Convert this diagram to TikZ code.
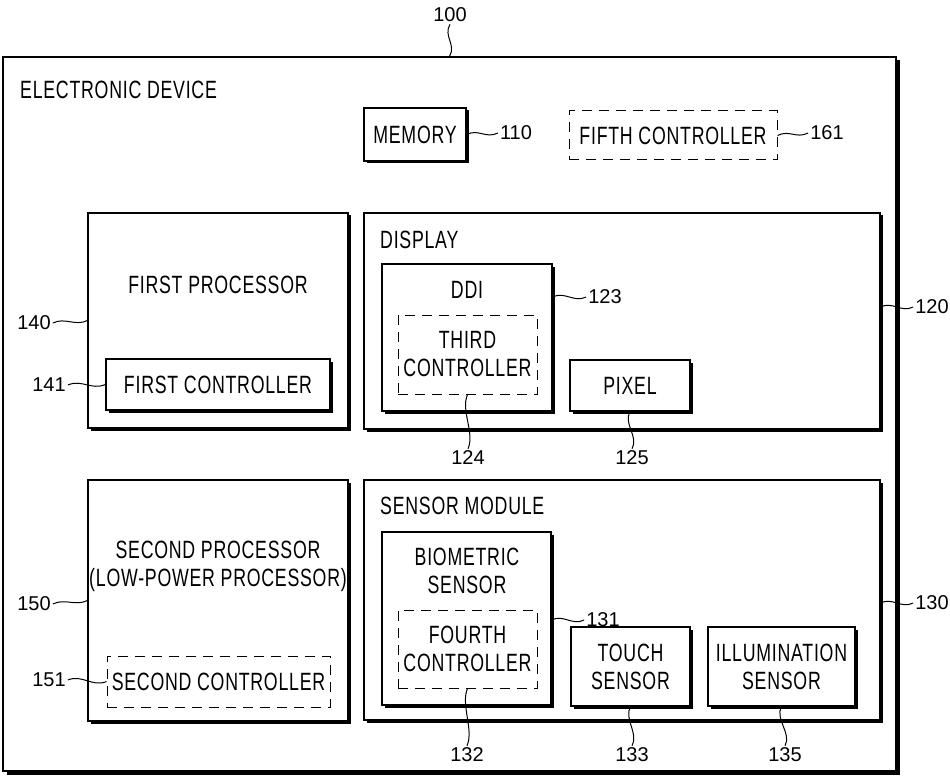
\documentclass[tikz,border=0pt]{standalone}
\usepackage{fontspec}
\setmainfont{Liberation Sans}
\newfontfamily\narrowfont{Liberation Sans}[FakeStretch=0.71,LetterSpace=3]
\usetikzlibrary{fit,shadows,positioning}

\begin{document}
\begin{tikzpicture}[x=1pt,y=-1pt,
  device/.style={draw,line width=1.2pt,fill=white,inner sep=0pt,
    drop shadow={shadow xshift=3.5pt,shadow yshift=-3.5pt,opacity=1,fill=black}},
  unit/.style={draw,line width=1.2pt,fill=white,inner sep=0pt,
    drop shadow={shadow xshift=2.5pt,shadow yshift=-2.5pt,opacity=1,fill=black}},
  option/.style={draw,line width=1pt,dash pattern=on 10pt off 7pt,inner sep=0pt},
  txt/.style={font=\narrowfont\fontsize{25}{28}\selectfont,align=center,inner sep=0pt},
  ref/.style={font=\fontsize{20}{22}\selectfont,inner sep=2pt},
  lead/.style={line width=1pt}]

    \useasboundingbox (0,0) rectangle (950,778);

    % boxes
    \node[device,fit={(3,57) (896,771)}] (dev) {};
    \node[unit,fit={(364,108) (466,161)}] (mem) {};
    \node[option,fit={(569,111) (777,160)}] (fifth) {};
    \node[unit,fit={(88,213) (348,428)}] (proc1) {};
    \node[unit,fit={(106,359) (330,410)}] (ctrl1) {};
    \node[unit,fit={(364,213) (880,429)}] (disp) {};
    \node[unit,fit={(382,264) (552,411)}] (ddi) {};
    \node[option,fit={(398,315) (537,394)}] (ctrl3) {};
    \node[unit,fit={(570,360) (690,411)}] (pixel) {};
    \node[unit,fit={(88,480) (348,721)}] (proc2) {};
    \node[option,fit={(107,656) (330,707)}] (ctrl2) {};
    \node[unit,fit={(364,480) (880,720)}] (sens) {};
    \node[unit,fit={(382,532) (551,705)}] (bio) {};
    \node[option,fit={(398,610) (537,688)}] (ctrl4) {};
    \node[unit,fit={(571,627) (690,706)}] (touch) {};
    \node[unit,fit={(708,627) (855,706)}] (illum) {};

    % texts
    \node[txt,anchor=west] (devtxt) at (20,90) {ELECTRONIC DEVICE};
    \node[txt] (memtxt) at (mem) {MEMORY};
    \node[txt] (fifthtxt) at (fifth) {FIFTH CONTROLLER};
    \node[txt] (proc1txt) at (218,285) {FIRST PROCESSOR};
    \node[txt] (ctrl1txt) at (ctrl1) {FIRST CONTROLLER};
    \node[txt,anchor=west] (disptxt) at (380,240) {DISPLAY};
    \node[txt] (dditxt) at (467,290) {DDI};
    \node[txt] (ctrl3txt) at (ctrl3) {THIRD\\CONTROLLER};
    \node[txt] (pixeltxt) at (pixel) {PIXEL};
    \node[txt] (proc2txt) at (218,566) {SECOND PROCESSOR\\(LOW-POWER PROCESSOR)};
    \node[txt] (ctrl2txt) at (ctrl2) {SECOND CONTROLLER};
    \node[txt,anchor=west] (senstxt) at (380,506) {SENSOR MODULE};
    \node[txt] (biotxt) at (467,571) {BIOMETRIC\\SENSOR};
    \node[txt] (ctrl4txt) at (ctrl4) {FOURTH\\CONTROLLER};
    \node[txt] (touchtxt) at (touch) {TOUCH\\SENSOR};
    \node[txt] (illumtxt) at (illum) {ILLUMINATION\\SENSOR};

    % reference numbers
    \node[ref] (l100) at (450,15) {100};
    \node[ref] (l110) at (516,133) {110};
    \node[ref] (l161) at (827,133) {161};
    \node[ref] (l140) at (34,323) {140};
    \node[ref] (l141) at (49,385) {141};
    \node[ref] (l120) at (932,307) {120};
    \node[ref] (l123) at (605,297) {123};
    \node[ref] (l124) at (468,458) {124};
    \node[ref] (l125) at (632,458) {125};
    \node[ref] (l150) at (34,604) {150};
    \node[ref] (l151) at (49,680) {151};
    \node[ref] (l130) at (932,603) {130};
    \node[ref] (l131) at (603,620) {131};
    \node[ref] (l132) at (467,755) {132};
    \node[ref] (l133) at (632,755) {133};
    \node[ref] (l135) at (785,755) {135};

    % leaders
    \draw[lead] (l100.south) .. controls +(-7,12) and +(7,-12) .. (dev.north);
    \draw[lead] (mem.east) .. controls +(12,-6) and +(-12,6) .. (l110.west);
    \draw[lead] (fifth.east) .. controls +(12,-6) and +(-12,6) .. (l161.west);
    \draw[lead] (l140.east) .. controls +(12,-6) and +(-12,6) .. (proc1.west);
    \draw[lead] (l141.east) .. controls +(14,-6) and +(-14,6) .. (ctrl1.west);
    \draw[lead] (disp.east |- l120.west) .. controls +(12,-6) and +(-12,6) .. (l120.west);
    \draw[lead] (ddi.east |- l123.west) .. controls +(12,-6) and +(-12,6) .. (l123.west);
    \draw[lead] (ctrl3.south) .. controls +(-7,16) and +(7,-16) .. (l124.north);
    \draw[lead] (pixel.south) .. controls +(-7,12) and +(7,-12) .. (l125.north);
    \draw[lead] (l150.east) .. controls +(12,-6) and +(-12,6) .. (proc2.west);
    \draw[lead] (l151.east) .. controls +(14,-6) and +(-14,6) .. (ctrl2.west);
    \draw[lead] (sens.east |- l130.west) .. controls +(12,-6) and +(-12,6) .. (l130.west);
    \draw[lead] (bio.east |- l131.west) .. controls +(12,-6) and +(-12,6) .. (l131.west);
    \draw[lead] (ctrl4.south) .. controls +(-7,16) and +(7,-16) .. (l132.north);
    \draw[lead] (touch.south) .. controls +(-7,12) and +(7,-12) .. (l133.north);
    \draw[lead] (illum.south) .. controls +(-7,12) and +(7,-12) .. (l135.north);
\end{tikzpicture}
\end{document}
